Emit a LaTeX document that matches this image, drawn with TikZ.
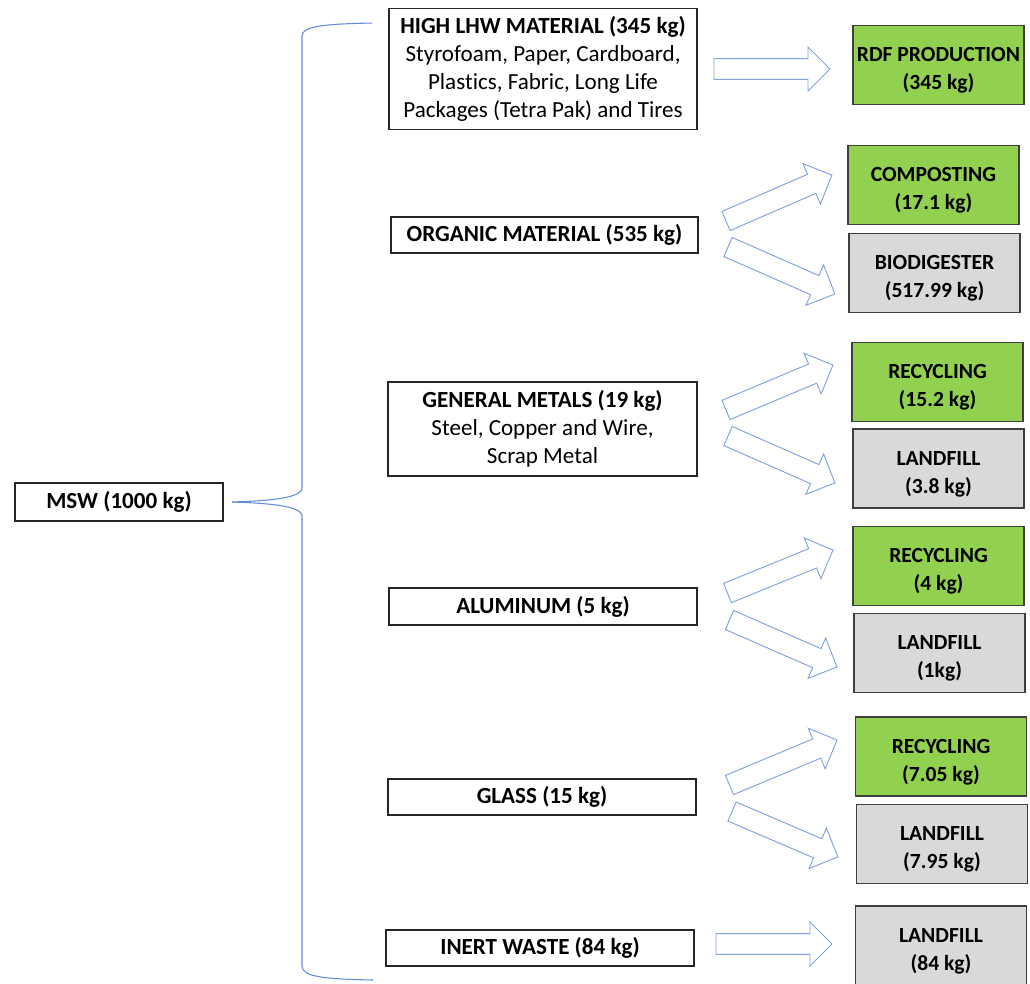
\documentclass[tikz,border=0pt]{standalone}
\usepackage{fontspec}
\setmainfont{Carlito}[Ligatures=NoCommon]
\usetikzlibrary{calc}
\definecolor{boxgreen}{HTML}{92D050}
\definecolor{boxgray}{HTML}{D9D9D9}
\definecolor{arrblue}{RGB}{128,160,222}
\definecolor{braceblue}{RGB}{100,140,215}
\definecolor{edgegray}{HTML}{3F3F3F}
\tikzset{
  src/.style={draw=black!85, line width=0.9pt, fill=white, align=center, inner sep=0pt,
    font=\fontsize{17.3}{21}\selectfont},
  dst/.style={draw=edgegray, line width=1.2pt, inner sep=0pt,
    minimum width=128.25pt, minimum height=59.25pt},
  dsttext/.style={align=center, inner sep=0pt, yshift=-4pt,
    font=\bfseries\fontsize{16.2}{21}\selectfont},
  good/.style={dst, fill=boxgreen},
  rest/.style={dst, fill=boxgray},
  blockarr/.style={draw=arrblue, line width=0.7pt, line join=miter},
  bracestyle/.style={draw=braceblue, line width=0.8pt},
}
\newcommand\blockarrow[2]{%
  \pgfpointdiff{\pgfpointanchor{#1}{center}}{\pgfpointanchor{#2}{center}}%
  \pgfgetlastxy{\bax}{\bay}%
  \pgfmathsetmacro\baang{atan2(\bay,\bax)}%
  \pgfmathsetmacro\balen{veclen(\bax,\bay)}%
  \draw[blockarr, shift={(#1)}, rotate=\baang]
    (0pt,-7.8pt) -- ({\balen pt-16.5pt},-7.8pt) -- ({\balen pt-16.5pt},-16.5pt)
    -- ({\balen pt},0pt) -- ({\balen pt-16.5pt},16.5pt) -- ({\balen pt-16.5pt},7.8pt)
    -- (0pt,7.8pt) -- cycle;
}
\begin{document}
\begin{tikzpicture}[x=0.75pt, y=-0.75pt]
\useasboundingbox (0,0) rectangle (1030,983);

% source boxes
\node[src, minimum width=156pt, minimum height=28.5pt] (msw) at (119,502) {\bfseries MSW (1000 kg)};
\node[src, minimum width=231pt, minimum height=90.75pt] (high) at (543,69)
  {\bfseries HIGH LHW MATERIAL (345 kg)\\Styrofoam, Paper, Cardboard,\\Plastics, Fabric, Long Life\\Packages (Tetra Pak) and Tires};
\node[src, minimum width=230.25pt, minimum height=27pt] (org) at (544.5,235) {\bfseries ORGANIC MATERIAL (535 kg)};
\node[src, minimum width=231.75pt, minimum height=70.5pt] (met) at (542.5,429)
  {\bfseries GENERAL METALS (19 kg)\\Steel, Copper and Wire,\\Scrap Metal};
\node[src, minimum width=231pt, minimum height=27.75pt] (alu) at (543,606.5) {\bfseries ALUMINUM (5 kg)};
\node[src, minimum width=231pt, minimum height=27pt] (gla) at (542,797) {\bfseries GLASS (15 kg)};
\node[src, minimum width=231pt, minimum height=27pt] (ine) at (540,948) {\bfseries INERT WASTE (84 kg)};

% destination boxes
\node[good, label={[dsttext]center:{RDF PRODUCTION\\(345 kg)}}] (rdf) at (938.5,65) {};
\node[good, label={[dsttext]center:{COMPOSTING\\(17.1 kg)}}] (comp) at (933.5,185) {};
\node[rest, label={[dsttext]center:{BIODIGESTER\\(517.99 kg)}}] (bio) at (934.5,273) {};
\node[good, label={[dsttext]center:{RECYCLING\\(15.2 kg)}}] (rec1) at (937.5,382) {};
\node[rest, label={[dsttext]center:{LANDFILL\\(3.8 kg)}}] (lf1) at (938.5,468.5) {};
\node[good, label={[dsttext]center:{RECYCLING\\(4 kg)}}] (rec2) at (938.5,566) {};
\node[rest, label={[dsttext]center:{LANDFILL\\(1kg)}}] (lf2) at (939.5,653) {};
\node[good, label={[dsttext]center:{RECYCLING\\(7.05 kg)}}] (rec3) at (941,756.5) {};
\node[rest, label={[dsttext]center:{LANDFILL\\(7.95 kg)}}] (lf3) at (942,844) {};
\node[rest, label={[dsttext]center:{LANDFILL\\(84 kg)}}] (lf4) at (941,945.5) {};

% brace
\coordinate (bt) at (232,502);
\coordinate (btop) at (372,23);
\coordinate (bbot) at (373,980);
\draw[bracestyle] (bt) .. controls (262,501) and (302,499) .. (302,488) -- (302,36)
  .. controls (302,26) and (325,24) .. (btop);
\draw[bracestyle] (bt) .. controls (262,503) and (302,505) .. (302,516) -- (302,966)
  .. controls (302,977) and (325,979) .. (bbot);

% arrow end points
\coordinate (a0s) at (714,69);    \coordinate (a0e) at (830,69);
\coordinate (a1s) at (726,221);   \coordinate (a1e) at (832,175);
\coordinate (a2s) at (728,247);   \coordinate (a2e) at (835,294);
\coordinate (a3s) at (726,410);   \coordinate (a3e) at (833,365);
\coordinate (a4s) at (728,436);   \coordinate (a4e) at (835,483);
\coordinate (a5s) at (727.5,593); \coordinate (a5e) at (833,550);
\coordinate (a6s) at (729.5,620); \coordinate (a6e) at (837,667);
\coordinate (a7s) at (729.5,785); \coordinate (a7e) at (837,740);
\coordinate (a8s) at (732,811.5); \coordinate (a8e) at (838,857);
\coordinate (a9s) at (716,944);   \coordinate (a9e) at (832,944);

\blockarrow{a0s}{a0e}
\blockarrow{a1s}{a1e}
\blockarrow{a2s}{a2e}
\blockarrow{a3s}{a3e}
\blockarrow{a4s}{a4e}
\blockarrow{a5s}{a5e}
\blockarrow{a6s}{a6e}
\blockarrow{a7s}{a7e}
\blockarrow{a8s}{a8e}
\blockarrow{a9s}{a9e}
\end{tikzpicture}
\end{document}
